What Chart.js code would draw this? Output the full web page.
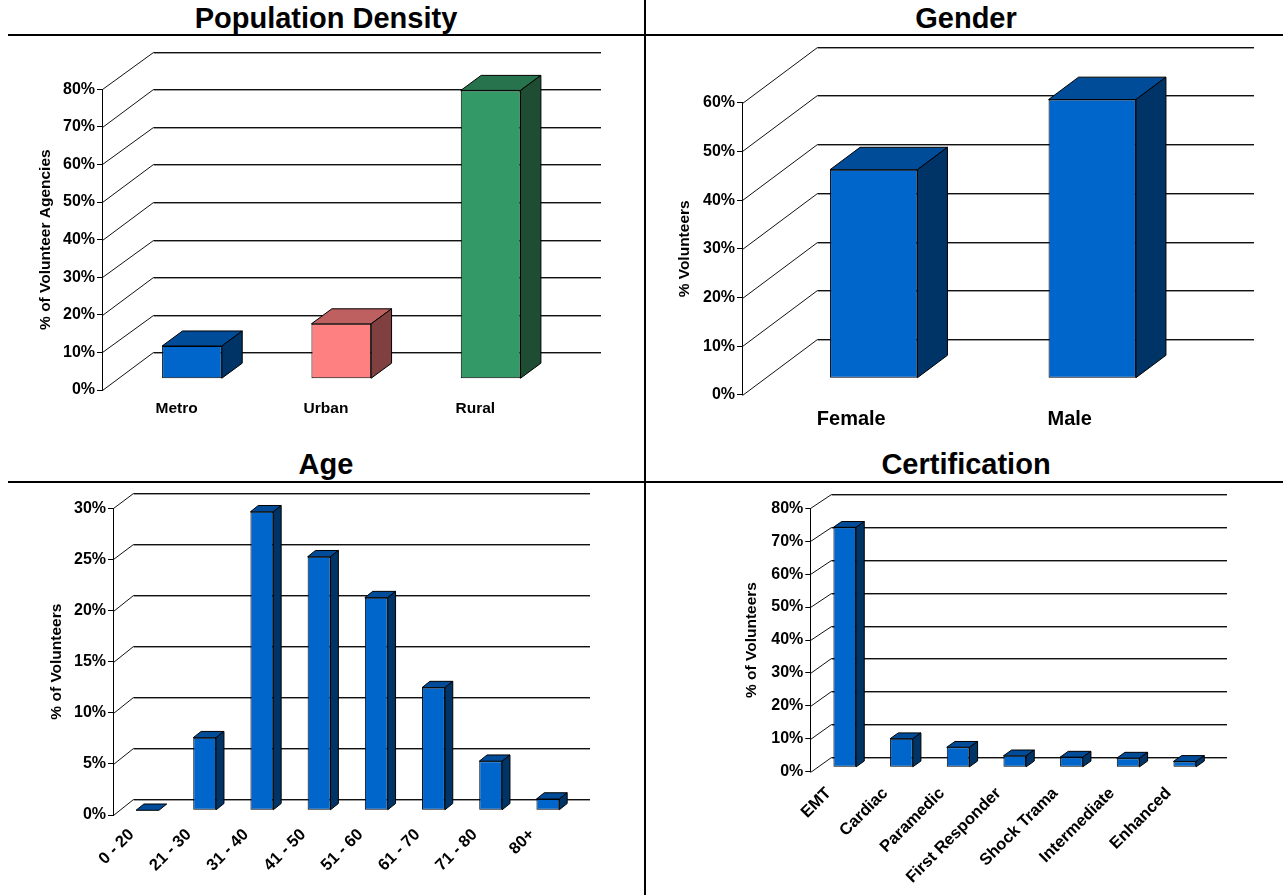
<!DOCTYPE html>
<html>
<head>
<meta charset="utf-8">
<title>Volunteer Survey</title>
<script src="https://cdn.jsdelivr.net/npm/chart.js@4/dist/chart.umd.min.js"></script>
<style>
  html, body { margin: 0; padding: 0; background: #fff; }
  body { width: 1283px; height: 895px; position: relative; overflow: hidden;
         font-family: "Liberation Sans", Arial, Helvetica, sans-serif; }
  canvas { position: absolute; left: 0; top: 0; }
  .title { position: absolute; font-size: 29px; line-height: 29px; font-weight: bold;
           color: #000; text-align: center; white-space: nowrap; }
  .rule { position: absolute; background: #000; }
</style>
</head>
<body>
<div class="title" style="left:0;width:652px;top:3.5px;">Population Density</div>
<div class="title" style="left:646px;width:640px;top:3.5px;">Gender</div>
<div class="title" style="left:0;width:652px;top:450px;">Age</div>
<div class="title" style="left:646px;width:640px;top:450px;">Certification</div>
<div class="rule" style="left:8px;top:34px;width:1275px;height:2px;"></div>
<div class="rule" style="left:8px;top:481px;width:1275px;height:2px;"></div>
<div class="rule" style="left:644px;top:0;width:2px;height:895px;"></div>

<canvas id="density" width="1283" height="895"></canvas>
<canvas id="gender" width="1283" height="895"></canvas>
<canvas id="age" width="1283" height="895"></canvas>
<canvas id="cert" width="1283" height="895"></canvas>

<script>
// ---- data ----
const densityLabels = ['Metro', 'Urban', 'Rural'];
const densityValues = [8.7, 14.6, 76.7];

const genderLabels = ['Female', 'Male'];
const genderValues = [42.8, 57.2];

const ageLabels = ['0 - 20', '21 - 30', '31 - 40', '41 - 50', '51 - 60', '61 - 70', '71 - 80', '80+'];
const ageValues = [0, 7.1, 29.2, 24.8, 20.8, 12.0, 4.8, 1.1];

const certLabels = ['EMT', 'Cardiac', 'Paramedic', 'First Responder', 'Shock Trama', 'Intermediate', 'Enhanced'];
const certValues = [72.9, 8.7, 6.1, 3.5, 3.1, 2.8, 1.8];

const densityAxis = { max: 80, step: 10, title: '% of Volunteer Agencies' };
const genderAxis  = { max: 60, step: 10, title: '% Volunteers' };
const ageAxis     = { max: 30, step: 5,  title: '% of Volunteers' };
const certAxis    = { max: 80, step: 10, title: '% of Volunteers' };

// ---- styling ----
const FONT = '"Liberation Sans", Arial, Helvetica, sans-serif';
Chart.defaults.font.family = FONT;
Chart.defaults.color = '#000';

const BLUE = { front: '#0066CC', top: '#004C99', side: '#003366' };

// Pseudo-3D: back-wall grid, side diagonals and box faces around the bars.
const box3d = {
  id: 'box3d',
  beforeDatasetsDraw(chart, args, o) {
    const { ctx, chartArea: a, scales: { y } } = chart;
    ctx.save();
    ctx.lineWidth = 1;
    y.ticks.forEach(t => {
      const py = y.getPixelForValue(t.value);
      const fy = Math.round(py) + 0.5;
      const by = Math.round(py - o.dy) + 0.5;
      const bx = Math.round(a.left + o.dx) + 0.5;
      const ex = Math.round(a.right + o.dx);
      ctx.strokeStyle = '#9a9a9a';
      ctx.beginPath(); ctx.moveTo(bx, by + 1); ctx.lineTo(ex, by + 1); ctx.stroke();
      ctx.strokeStyle = '#111';
      ctx.beginPath(); ctx.moveTo(Math.round(a.left) + 0.5, fy); ctx.lineTo(bx, by); ctx.lineTo(ex, by); ctx.stroke();
    });
    ctx.restore();
  },
  beforeDatasetDraw(chart, args, o) {
    chart.ctx.save();
    chart.ctx.translate(o.front * o.dx, -o.front * o.dy);
  },
  afterDatasetDraw(chart) {
    chart.ctx.restore();
  },
  afterDatasetsDraw(chart, args, o) {
    const { ctx } = chart;
    const ox = o.front * o.dx, oy = o.front * o.dy;
    const ddx = o.depth * o.dx, ddy = o.depth * o.dy;
    chart.data.datasets.forEach((ds, di) => {
      chart.getDatasetMeta(di).data.forEach((bar, i) => {
        const { x, y, base, width } = bar.getProps(['x', 'y', 'base', 'width'], true);
        const L = x - width / 2 + ox, R = x + width / 2 + ox;
        const T = y - oy, B = base - oy;
        const pick = v => Array.isArray(v) ? v[i] : v;
        ctx.save();
        ctx.lineWidth = 1;
        ctx.strokeStyle = '#000';
        ctx.lineJoin = 'miter';
        // top face
        ctx.beginPath();
        ctx.moveTo(L, T); ctx.lineTo(L + ddx, T - ddy); ctx.lineTo(R + ddx, T - ddy); ctx.lineTo(R, T);
        ctx.closePath();
        ctx.fillStyle = pick(ds.topColor); ctx.fill(); ctx.stroke();
        // side face
        if (B - T > 0.5) {
          ctx.beginPath();
          ctx.moveTo(R, T); ctx.lineTo(R + ddx, T - ddy); ctx.lineTo(R + ddx, B - ddy); ctx.lineTo(R, B);
          ctx.closePath();
          ctx.fillStyle = pick(ds.sideColor); ctx.fill(); ctx.stroke();
        }
        ctx.restore();
      });
    });
  }
};

function makeChart(id, labels, values, axis, cfg) {
  const f = cfg.frame;
  const W = 1283, H = 895;
  const yTitleFont = { size: 15.5, weight: 'bold', family: FONT };
  const titlePad = cfg.yTitleX - (f.left - 80) - yTitleFont.size * 1.2 / 2;
  return new Chart(document.getElementById(id), {
    type: 'bar',
    data: {
      labels: labels,
      datasets: [{
        data: values,
        backgroundColor: cfg.colors.front,
        topColor: cfg.colors.top,
        sideColor: cfg.colors.side,
        borderColor: '#000',
        borderWidth: 1,
        borderSkipped: false,
        categoryPercentage: 1,
        barPercentage: 0.4,
        clip: false
      }]
    },
    options: {
      responsive: false,
      animation: false,
      events: [],
      layout: { padding: { left: f.left - 80, top: f.top, right: W - f.right, bottom: Math.max(0, H - f.bottom - cfg.xHeight) } },
      plugins: {
        legend: { display: false },
        tooltip: { enabled: false },
        box3d: { dx: cfg.dx, dy: cfg.dy, front: 0.3, depth: 0.4 }
      },
      scales: {
        x: {
          grid: { display: false, drawTicks: false },
          border: { display: false },
          ticks: {
            autoSkip: false,
            minRotation: cfg.xRot, maxRotation: cfg.xRot,
            padding: cfg.xPad,
            labelOffset: cfg.xOffset || 0,
            font: { size: cfg.xFont, weight: 'bold' },
            color: '#000'
          },
          afterFit: s => { s.height = cfg.xHeight; }
        },
        y: {
          min: 0, max: axis.max,
          ticks: {
            stepSize: axis.step,
            padding: 2,
            font: { size: 16, weight: 'bold' },
            color: '#000',
            callback: v => v + '%'
          },
          grid: { drawOnChartArea: false, drawTicks: true, tickLength: 5, color: '#000', lineWidth: 1 },
          border: { display: true, color: '#000', width: 1 },
          title: { display: true, text: axis.title, font: yTitleFont, color: '#000', padding: { top: titlePad, bottom: 0 } },
          afterFit: s => { s.width = 80; }
        }
      }
    },
    plugins: [box3d]
  });
}

makeChart('density', densityLabels, densityValues, densityAxis, {
  frame: { left: 102, right: 550, top: 89.3, bottom: 390 },
  dx: 51, dy: 37.6, yTitleX: 46,
  xFont: 15.5, xPad: 9, xRot: 0, xHeight: 40,
  colors: {
    front: ['#0066CC', '#FF8080', '#339966'],
    top:   ['#004C99', '#BF6060', '#26734D'],
    side:  ['#003366', '#804040', '#1E4D33']
  }
});

makeChart('gender', genderLabels, genderValues, genderAxis, {
  frame: { left: 742, right: 1179, top: 102.7, bottom: 395 },
  dx: 75, dy: 56, yTitleX: 685,
  xFont: 20, xPad: 12, xRot: 0, xHeight: 40,
  colors: BLUE
});

makeChart('age', ageLabels, ageValues, ageAxis, {
  frame: { left: 113, right: 570.6, top: 508.3, bottom: 815 },
  dx: 19.6, dy: 15.7, yTitleX: 57,
  xFont: 16.5, xPad: 10, xRot: 45, xOffset: -10, xHeight: 80,
  colors: BLUE
});

makeChart('cert', certLabels, certValues, certAxis, {
  frame: { left: 810.3, right: 1207, top: 508.3, bottom: 771.7 },
  dx: 20.4, dy: 14.5, yTitleX: 752,
  xFont: 16.5, xPad: 12, xRot: 45, xOffset: -10, xHeight: 123,
  colors: BLUE
});
</script>
</body>
</html>
